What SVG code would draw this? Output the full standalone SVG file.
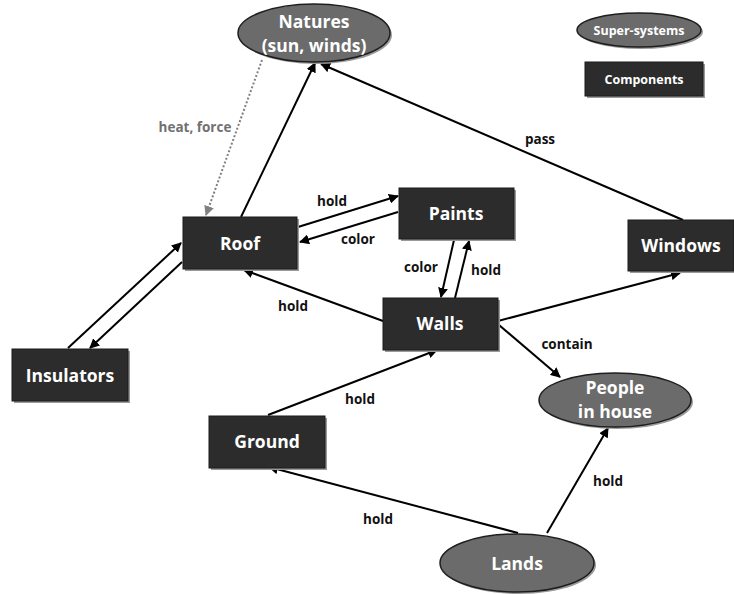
<svg xmlns="http://www.w3.org/2000/svg" width="734" height="594" viewBox="0 0 734 594">
<style>
.box{fill:#2c2c2c;stroke:#1a1a1a;stroke-width:1}
.sh{fill:#9a9a9a}
.ell{fill:#6b6b6b;stroke:#1e1e1e;stroke-width:1.5}
.nt{font-family:"Open Sans","Noto Sans",sans-serif;font-weight:bold;font-size:17.5px;fill:#ffffff;text-anchor:middle;dominant-baseline:central}
.lt{font-family:"Open Sans","Noto Sans",sans-serif;font-weight:bold;font-size:12.5px;fill:#ffffff;text-anchor:middle;dominant-baseline:central}
.el{font-family:"Open Sans","Noto Sans",sans-serif;font-weight:bold;font-size:13.5px;fill:#111;text-anchor:middle;dominant-baseline:central}
.edge{stroke:#000;stroke-width:2;fill:none;marker-end:url(#ah)}
</style>
<defs>
<marker id="ah" viewBox="0 0 10 10" refX="9" refY="5" markerWidth="5" markerHeight="5" orient="auto" markerUnits="strokeWidth">
<path d="M0,0 L10,5 L0,10 z" fill="#000"/>
</marker>
<marker id="ahg" viewBox="0 0 10 10" refX="9" refY="5" markerWidth="5" markerHeight="5" orient="auto" markerUnits="strokeWidth">
<path d="M0,0 L10,5 L0,10 z" fill="#808080"/>
</marker>
</defs>
<g id="connectors">
<line class="edge" x1="241" y1="217" x2="315" y2="63"/>
<line x1="262" y1="60" x2="206" y2="215" stroke="#808080" stroke-width="2" stroke-dasharray="2,2" marker-end="url(#ahg)"/>
<line class="edge" x1="683" y1="220" x2="321" y2="64"/>
<line class="edge" x1="298" y1="227" x2="398" y2="196"/>
<line class="edge" x1="398" y1="212" x2="300" y2="242"/>
<line class="edge" x1="454" y1="240" x2="441" y2="297"/>
<line class="edge" x1="455" y1="298" x2="469" y2="241"/>
<line class="edge" x1="383" y1="321" x2="244" y2="270"/>
<line class="edge" x1="498" y1="321" x2="680" y2="273"/>
<line class="edge" x1="499" y1="325" x2="560" y2="377"/>
<line class="edge" x1="268" y1="415" x2="437" y2="350"/>
<line class="edge" x1="518" y1="533" x2="269" y2="467"/>
<line class="edge" x1="547" y1="533" x2="608" y2="428"/>
<line class="edge" x1="68" y1="348" x2="181" y2="243"/>
<line class="edge" x1="182" y1="262" x2="90" y2="348"/>
</g>
<g id="edge-labels">
<text class="el" x="195" y="127" style="fill:#707070">heat, force</text>
<text class="el" x="540" y="139">pass</text>
<text class="el" x="332" y="201">hold</text>
<text class="el" x="358" y="239">color</text>
<text class="el" x="421" y="267">color</text>
<text class="el" x="486" y="270">hold</text>
<text class="el" x="293" y="306">hold</text>
<text class="el" x="567" y="344">contain</text>
<text class="el" x="360" y="399">hold</text>
<text class="el" x="378" y="519">hold</text>
<text class="el" x="608" y="481">hold</text>
</g>
<g id="natures">
<ellipse cx="316" cy="35" rx="76" ry="29" class="sh"/>
<ellipse cx="314" cy="33" rx="76" ry="29" class="ell"/>
<text class="nt" x="314" y="21">Natures</text>
<text class="nt" x="314" y="45">(sun, winds)</text>
</g>
<g id="legend-super">
<ellipse cx="641" cy="32" rx="62" ry="17" class="sh"/>
<ellipse cx="639" cy="30" rx="62" ry="17" class="ell"/>
<text class="lt" x="639" y="30">Super-systems</text>
</g>
<g id="legend-components">
<rect x="587" y="64" width="118" height="34" class="sh"/>
<rect x="585" y="62" width="118" height="34" class="box"/>
<text class="lt" x="644" y="79">Components</text>
</g>
<g id="roof">
<rect x="185" y="219" width="114" height="52" class="sh"/>
<rect x="183" y="217" width="114" height="52" class="box"/>
<text class="nt" x="240" y="243">Roof</text>
</g>
<g id="paints">
<rect x="401" y="190" width="115" height="51" class="sh"/>
<rect x="399" y="188" width="115" height="51" class="box"/>
<text class="nt" x="456" y="213">Paints</text>
</g>
<g id="windows">
<rect x="630" y="222" width="106" height="51" class="sh"/>
<rect x="628" y="220" width="106" height="51" class="box"/>
<text class="nt" x="681" y="245">Windows</text>
</g>
<g id="walls">
<rect x="385" y="300" width="115" height="52" class="sh"/>
<rect x="383" y="298" width="115" height="52" class="box"/>
<text class="nt" x="440" y="323">Walls</text>
</g>
<g id="insulators">
<rect x="14" y="351" width="116" height="52" class="sh"/>
<rect x="12" y="349" width="116" height="52" class="box"/>
<text class="nt" x="70" y="375">Insulators</text>
</g>
<g id="ground">
<rect x="211" y="418" width="116" height="52" class="sh"/>
<rect x="209" y="416" width="116" height="52" class="box"/>
<text class="nt" x="267" y="441">Ground</text>
</g>
<g id="people">
<ellipse cx="617" cy="402" rx="76" ry="27" class="sh"/>
<ellipse cx="615" cy="400" rx="76" ry="27" class="ell"/>
<text class="nt" x="615" y="387">People</text>
<text class="nt" x="615" y="411">in house</text>
</g>
<g id="lands">
<ellipse cx="519" cy="565" rx="77" ry="29" class="sh"/>
<ellipse cx="517" cy="563" rx="77" ry="29" class="ell"/>
<text class="nt" x="517" y="563">Lands</text>
</g>
</svg>
